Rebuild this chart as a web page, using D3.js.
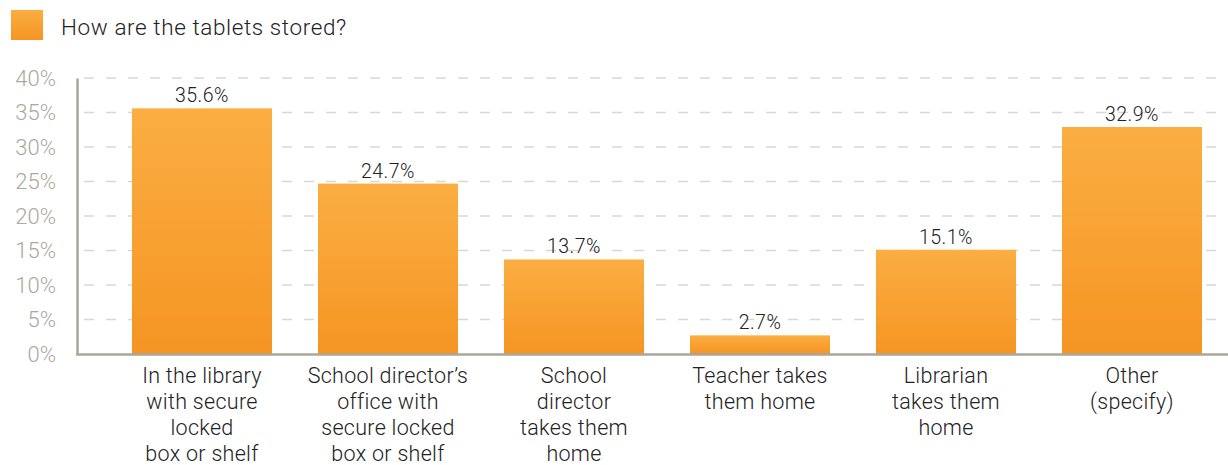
<!DOCTYPE html>
<html><head><meta charset="utf-8">
<script src="https://cdn.jsdelivr.net/npm/d3@7"></script>
<style>body{margin:0;background:#fff;} svg{display:block;font-family:Roboto, "DejaVu Sans", sans-serif;}</style>
</head><body>
<svg id="c" width="1228" height="465"></svg>
<script>
const title = "How are the tablets stored?";
const categories = [
  ["In the library","with secure","locked","box or shelf"],
  ["School director\u2019s","office with","secure locked","box or shelf"],
  ["School","director","takes them","home"],
  ["Teacher takes","them home"],
  ["Librarian","takes them","home"],
  ["Other","(specify)"]
];
const values = [35.6, 24.7, 13.7, 2.7, 15.1, 32.9];
const yTicks = [0,5,10,15,20,25,30,35,40];

const svg = d3.select("#c");
const defs = svg.append("defs");
const g = defs.append("linearGradient").attr("id","og").attr("x1",0).attr("y1",0).attr("x2",0).attr("y2",1);
g.append("stop").attr("offset","0%").attr("stop-color","#fbae42");
g.append("stop").attr("offset","100%").attr("stop-color","#f59523");

const x = d3.scaleBand().domain(d3.range(values.length)).range([109,1225]).paddingInner(0.247).paddingOuter(0.1235);
const y = d3.scaleLinear().domain([0,40]).range([354,78]);

// legend
svg.append("rect").attr("x",11).attr("y",10).attr("width",32).attr("height",30).attr("fill","url(#og)");
svg.append("text").attr("x",61).attr("y",35).attr("font-size",22.5).attr("font-weight",300).attr("fill","#222").attr("letter-spacing",0.6).text(title);

// gridlines
svg.append("g").selectAll("line").data(yTicks.filter(d=>d>0)).join("line")
  .attr("x1",80).attr("x2",1228).attr("y1",d=>y(d)).attr("y2",d=>y(d))
  .attr("stroke","#d9d8d3").attr("stroke-width",1.3).attr("stroke-dasharray","10,12").attr("stroke-dashoffset",-4);

// y axis
const ya = svg.append("g").attr("transform","translate(77,0)").call(d3.axisLeft(y).tickValues(yTicks).tickSize(0).tickPadding(21).tickFormat(d=>d+"%"));
ya.select(".domain").attr("stroke","#aaa69a").attr("stroke-width",2.5);
ya.selectAll("text").attr("font-size",22).attr("fill","#aca89c").attr("font-family","Roboto, sans-serif").attr("font-weight",300);

// bars
svg.append("g").selectAll("rect").data(values).join("rect")
  .attr("x",(d,i)=>x(i)).attr("width",x.bandwidth())
  .attr("y",d=>y(d)).attr("height",d=>y(0)-y(d)).attr("fill","url(#og)");

// x axis baseline
svg.append("line").attr("x1",76).attr("x2",1228).attr("y1",354.5).attr("y2",354.5).attr("stroke","#aaa69a").attr("stroke-width",2.5);

// value labels
svg.append("g").selectAll("text").data(values).join("text")
  .attr("x",(d,i)=>x(i)+x.bandwidth()/2).attr("y",d=>y(d)-6)
  .attr("text-anchor","middle").attr("font-size",19.5).attr("font-weight",300).attr("fill","#222").attr("letter-spacing",0.5)
  .text(d=>d.toFixed(1)+"%");

// category labels
const cl = svg.append("g").selectAll("text").data(categories).join("text")
  .attr("x",(d,i)=>x(i)+x.bandwidth()/2).attr("y",383)
  .attr("text-anchor","middle").attr("font-size",21.5).attr("font-weight",300).attr("fill","#222").attr("letter-spacing",0.3);
cl.selectAll("tspan").data(d=>d).join("tspan")
  .attr("x",function(){return d3.select(this.parentNode).attr("x");})
  .attr("dy",(d,i)=>i===0?0:26).text(d=>d);
</script>
</body></html>
